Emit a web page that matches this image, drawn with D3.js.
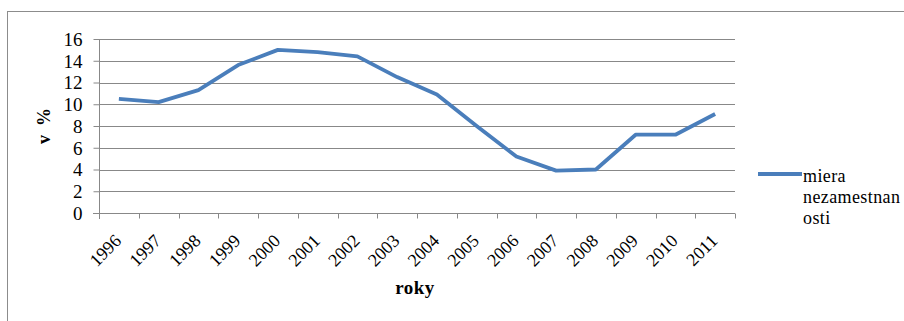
<!DOCTYPE html>
<html><head><meta charset="utf-8">
<script src="https://cdn.jsdelivr.net/npm/d3@7"></script>
<style>body{margin:0;background:#fff}svg{display:block}</style>
</head><body><svg id="c" width="904" height="321"></svg>
<script>
const years = ["1996","1997","1998","1999","2000","2001","2002","2003","2004","2005","2006","2007","2008","2009","2010","2011"];
const rate = [10.5,10.2,11.3,13.6,15.0,14.8,14.4,12.5,10.9,8.0,5.2,3.9,4.0,7.2,7.2,9.1];
const yTicks = [0,2,4,6,8,10,12,14,16];
const seriesName = ["miera","nezamestnan","osti"];
const yTitle = "v  %";
const xTitle = "roky";

const FONT = "'Liberation Serif', serif";
const svg = d3.select("#c");
const L = 99, R = 735, T = 39, B = 213;
const axisCol = "#888";
svg.append("rect").attr("x",7.5).attr("y",11.5).attr("width",910).attr("height",330)
  .attr("fill","none").attr("stroke","#8c8c8c");

const x = d3.scaleBand().domain(years).range([L,R]);
const y = d3.scaleLinear().domain([0,16]).range([B,T]);

svg.append("g").selectAll("line").data(yTicks.filter(d=>d>0)).join("line")
  .attr("x1",L).attr("x2",R).attr("y1",d=>Math.round(y(d))+0.5).attr("y2",d=>Math.round(y(d))+0.5)
  .attr("stroke",axisCol).attr("stroke-width",1);

const ya = svg.append("g").attr("transform",`translate(${L+0.5},0)`)
  .call(d3.axisLeft(y).tickValues(yTicks).tickSize(6).tickPadding(11));
ya.attr("font-family",null);
ya.select(".domain").attr("stroke",axisCol).attr("d",`M0,${T}V${B+6}`);
ya.selectAll(".tick line").attr("stroke",axisCol);
ya.selectAll(".tick text").attr("font-size",19).style("font-family",FONT).attr("fill","#000").attr("dy","0.34em");

const xa = svg.append("g").attr("transform",`translate(0,${Math.round(B)+0.5})`);
xa.append("line").attr("x1",L-6).attr("x2",R).attr("stroke",axisCol);
const bounds = years.map(d=>x(d)).concat([R]);
xa.selectAll("line.t").data(bounds).join("line").attr("class","t")
  .attr("x1",d=>Math.round(d)+0.5).attr("x2",d=>Math.round(d)+0.5).attr("y1",0).attr("y2",5).attr("stroke",axisCol);
xa.selectAll("text").data(years).join("text")
  .attr("transform",d=>`translate(${x(d)+x.bandwidth()/2-1},${24}) rotate(-45)`)
  .attr("text-anchor","end").attr("font-size",18).style("font-family",FONT).attr("dy","0.35em").text(d=>d);

svg.append("path").datum(rate)
  .attr("d",d3.line().x((d,i)=>x(years[i])+x.bandwidth()/2).y(d=>y(d)))
  .attr("fill","none").attr("stroke","#4a7ebb").attr("stroke-width",3.8).attr("stroke-linejoin","round");

svg.append("text").attr("transform",`translate(50,${(T+B)/2}) rotate(-90)`)
  .attr("text-anchor","middle").attr("font-weight","bold").attr("font-size",18).style("font-family",FONT)
  .style("white-space","pre").text(yTitle);
svg.append("text").attr("x",(L+R)/2-2).attr("y",294).attr("text-anchor","middle").style("font-family",FONT)
  .attr("font-weight","bold").attr("font-size",19).attr("letter-spacing",0.5).text(xTitle);

svg.append("line").attr("x1",758).attr("x2",802).attr("y1",174).attr("y2",174)
  .attr("stroke","#4a7ebb").attr("stroke-width",3.8);
svg.append("g").selectAll("text").data(seriesName).join("text").style("font-family",FONT)
  .attr("x",803).attr("y",(d,i)=>182+i*21).attr("font-size",18).attr("letter-spacing",0.4).text(d=>d);
</script></body></html>
